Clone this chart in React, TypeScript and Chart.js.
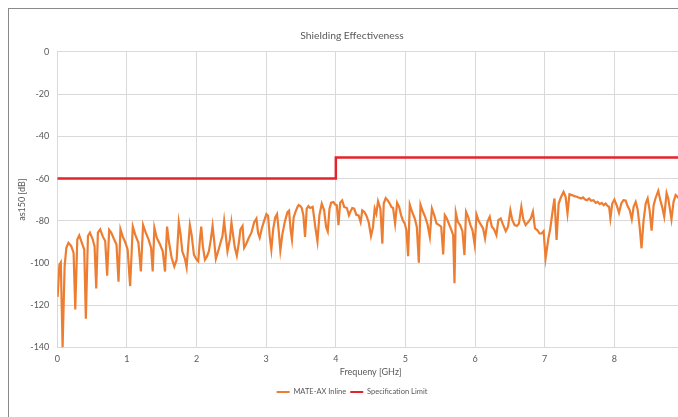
import React, { useEffect, useRef } from 'react';
import { Chart, registerables } from 'chart.js';

Chart.register(...registerables);

const chartTitle = 'Shielding Effectiveness';
const xTitle = 'Frequeny [GHz]';
const yTitle = 'as150 [dB]';
const seriesNames = ['MATE-AX Inline', 'Specification Limit'];

const mateFreq = [
  0.005, 0.03, 0.05, 0.076, 0.105, 0.13, 0.16, 0.2, 0.234, 0.258, 0.287, 0.315, 0.353, 0.387, 0.41, 0.44, 0.468, 0.506, 0.535, 0.559,
  0.583, 0.616, 0.654, 0.688, 0.716, 0.745, 0.774, 0.812, 0.85, 0.879, 0.907, 0.94, 0.974, 1.01, 1.046, 1.084, 1.117, 1.165, 1.2, 1.232,
  1.27, 1.31, 1.347, 1.37, 1.394, 1.428, 1.476, 1.514, 1.547, 1.576, 1.605, 1.643, 1.68, 1.714, 1.745, 1.77, 1.795, 1.833, 1.857, 1.88,
  1.904, 1.928, 1.962, 2.0, 2.024, 2.048, 2.067, 2.09, 2.12, 2.148, 2.177, 2.205, 2.23, 2.253, 2.277, 2.31, 2.344, 2.372, 2.396, 2.42,
  2.444, 2.478, 2.501, 2.525, 2.55, 2.578, 2.607, 2.63, 2.66, 2.683, 2.71, 2.75, 2.788, 2.826, 2.86, 2.883, 2.907, 2.94, 2.97, 3.003,
  3.027, 3.05, 3.074, 3.1, 3.13, 3.156, 3.18, 3.203, 3.232, 3.265, 3.304, 3.328, 3.35, 3.37, 3.394, 3.418, 3.447, 3.466, 3.49, 3.51,
  3.534, 3.558, 3.582, 3.606, 3.63, 3.668, 3.702, 3.736, 3.764, 3.798, 3.832, 3.86, 3.884, 3.909, 3.933, 3.966, 3.99, 4.014, 4.038, 4.062,
  4.091, 4.12, 4.159, 4.188, 4.207, 4.236, 4.264, 4.293, 4.327, 4.356, 4.38, 4.409, 4.438, 4.471, 4.505, 4.534, 4.558, 4.582, 4.606, 4.64,
  4.668, 4.688, 4.716, 4.745, 4.774, 4.798, 4.822, 4.851, 4.88, 4.909, 4.938, 4.962, 4.99, 5.014, 5.038, 5.062, 5.096, 5.135, 5.163, 5.192,
  5.216, 5.25, 5.283, 5.317, 5.35, 5.38, 5.413, 5.446, 5.484, 5.513, 5.542, 5.565, 5.594, 5.627, 5.66, 5.685, 5.704, 5.723, 5.752, 5.785,
  5.818, 5.847, 5.87, 5.9, 5.933, 5.962, 5.995, 6.02, 6.048, 6.08, 6.115, 6.143, 6.177, 6.21, 6.24, 6.272, 6.306, 6.334, 6.368, 6.4,
  6.44, 6.473, 6.506, 6.535, 6.568, 6.6, 6.63, 6.664, 6.692, 6.726, 6.764, 6.8, 6.83, 6.86, 6.893, 6.926, 6.955, 6.984, 7.012, 7.054,
  7.078, 7.112, 7.14, 7.17, 7.2, 7.236, 7.27, 7.3, 7.327, 7.355, 7.39, 7.427, 7.46, 7.494, 7.52, 7.55, 7.58, 7.608, 7.637, 7.666,
  7.7, 7.732, 7.76, 7.79, 7.818, 7.847, 7.876, 7.904, 7.924, 7.943, 7.97, 8.0, 8.033, 8.067, 8.1, 8.13, 8.162, 8.19, 8.22, 8.25,
  8.277, 8.306, 8.334, 8.363, 8.39, 8.42, 8.45, 8.478, 8.506, 8.535, 8.564, 8.59, 8.63, 8.66, 8.688, 8.716, 8.75, 8.774, 8.8, 8.82,
  8.85, 8.88, 8.907, 8.94, 8.97,
];

const mateDb = [
  -116, -100.8, -99.7, -140, -101.6, -92.8, -90.4, -92, -95.2, -122, -88.8, -86.9, -90.4, -93.6, -126.4, -87.2, -85.6, -88.5, -92, -112,
  -85.6, -84, -87.5, -89.6, -106, -84.3, -85.6, -88.5, -91.2, -108.8, -84, -87.5, -90, -93.6, -110.9, -82.7, -86.4, -90.4, -104, -82,
  -85.6, -88.8, -92.8, -104, -83.2, -88, -91.2, -94.4, -104, -82.7, -90.4, -97.6, -101.6, -98.4, -80.8, -86.4, -94.4, -98, -102, -92,
  -82, -86.4, -96, -98.4, -99.2, -88.8, -82.7, -92, -98.4, -97, -94.4, -88.8, -82.4, -89.6, -98, -94.4, -90.4, -87.2, -80, -87.2,
  -94.4, -88.8, -80.8, -86.9, -92.8, -96.5, -90.4, -84, -82.4, -92.8, -91.2, -88, -85.6, -80.8, -78.9, -85.6, -88, -83.2, -80, -76.8,
  -77.6, -87.2, -93.6, -84, -78.4, -76.8, -84.8, -94, -86.4, -80.8, -76, -75.2, -84, -88.8, -78.4, -76, -73.6, -72.5, -73, -73.9,
  -77.4, -87.6, -74.2, -73, -73.9, -73.4, -82.1, -89.7, -77.4, -71.8, -75, -82.9, -85, -74.2, -71.4, -71.1, -72.3, -72.6, -82.1, -71.4,
  -70.3, -73.4, -73.9, -77.4, -75.8, -73.9, -74.2, -77.1, -77.4, -80.6, -75, -75.8, -77.4, -80.6, -87.2, -82.9, -74.2, -76.6, -70.7, -74.2,
  -90.8, -71.8, -69.2, -70.3, -71.8, -73.4, -73.9, -81.3, -71.4, -73.4, -77.4, -79.7, -81.3, -84.5, -96.7, -72.3, -75.8, -79, -82.9, -99.8,
  -72.3, -75.6, -78.1, -81.7, -87.6, -74.2, -77.3, -81.3, -82, -82.8, -95.9, -77.3, -78.9, -81.7, -84.4, -86.8, -109.6, -76.1, -80.5, -82,
  -84.9, -96.2, -75.7, -78.1, -82, -84.4, -91.5, -77, -79.7, -81.7, -83.6, -88.3, -80.5, -78.1, -82.8, -84, -86.8, -79.7, -78.9, -81.7,
  -84.9, -82.8, -75, -79.7, -82, -82.4, -81.3, -73.4, -79.2, -82, -80.5, -78.9, -75.7, -83.6, -84.4, -86, -86, -84.9, -97.8, -88,
  -84, -75.7, -69.4, -89, -71.8, -68.6, -66.3, -68.6, -76.5, -67.4, -67.8, -68.3, -68.6, -69.1, -69.4, -68.9, -69.9, -70.2, -69.4, -70.5,
  -70.2, -71.5, -71, -72.1, -71.5, -72.6, -71.8, -73, -73.3, -78.8, -71.8, -69.9, -72.6, -76.2, -71.8, -70.2, -70.4, -73, -74.9, -79.3,
  -73.3, -71, -74.6, -82.8, -93, -79.6, -71.8, -69.4, -74.9, -84.6, -72.6, -69.4, -65.8, -70.2, -73.7, -78, -66.8, -69.4, -74.9, -79.3,
  -71, -67.8, -68.6, -70, -69,
];

const specFreq = [0, 4, 4, 9];
const specDb = [-60, -60, -50, -50];

const xMin = 0;
const xMax = 9;
const yMin = -140;
const yMax = 0;

const FONT = 'Lato, "Open Sans", sans-serif';
const TEXT = '#595959';
const GRID = '#d9d9d9';

export default function App() {
  const ref = useRef<HTMLCanvasElement | null>(null);

  useEffect(() => {
    if (!ref.current) return;
    const chart = new Chart(ref.current, {
      type: 'line',
      data: {
        datasets: [
          {
            label: seriesNames[0],
            data: mateFreq.map((f, i) => ({ x: f, y: mateDb[i] })),
            borderColor: '#ED7D31',
            backgroundColor: '#ED7D31',
            borderWidth: 2.2,
            pointRadius: 0,
            tension: 0,
          },
          {
            label: seriesNames[1],
            data: specFreq.map((f, i) => ({ x: f, y: specDb[i] })),
            borderColor: '#E3242B',
            backgroundColor: '#E3242B',
            borderWidth: 2.5,
            pointRadius: 0,
            tension: 0,
          },
        ],
      },
      options: {
        responsive: false,
        animation: false,
        devicePixelRatio: 1,
        layout: { padding: { left: 11, right: 13, top: 0, bottom: 21.25 } },
        plugins: {
          title: {
            display: true,
            text: chartTitle,
            color: TEXT,
            font: { family: FONT, size: 10.3, weight: 'normal', lineHeight: 1.2 },
            padding: { top: 20.8, bottom: 9.8 },
          },
          legend: {
            position: 'bottom',
            labels: {
              boxWidth: 13,
              boxHeight: 2,
              padding: 4,
              color: TEXT,
              font: { family: FONT, size: 7.5 },
              generateLabels: (c: any) =>
                Chart.defaults.plugins.legend.labels.generateLabels(c).map((it: any) => ({
                  ...it,
                  fillStyle: it.strokeStyle,
                  lineWidth: 0,
                })),
            },
          },
          tooltip: { enabled: false },
        },
        scales: {
          x: {
            type: 'linear',
            min: xMin,
            max: xMax,
            ticks: { stepSize: 1, color: TEXT, padding: 6, font: { family: FONT, size: 9 } },
            grid: { color: GRID, drawTicks: false },
            border: { color: GRID },
            title: {
              display: true,
              text: xTitle,
              color: TEXT,
              font: { family: FONT, size: 9, lineHeight: 1.2 },
              padding: { top: 0, bottom: 6.85 },
            },
            afterFit: (s: any) => {
              s.height = 36.75;
            },
          },
          y: {
            type: 'linear',
            min: yMin,
            max: yMax,
            ticks: { stepSize: 20, color: TEXT, padding: 8, font: { family: FONT, size: 9 } },
            grid: { color: GRID, drawTicks: false },
            border: { color: GRID },
            title: {
              display: true,
              text: yTitle,
              color: TEXT,
              font: { family: FONT, size: 9, lineHeight: 1.2 },
              padding: { top: -3.4, bottom: 0 },
            },
            afterFit: (s: any) => {
              s.width = 37.3;
            },
          },
        },
      },
    });
    return () => chart.destroy();
  }, []);

  return (
    <div style={{ position: 'fixed', left: 8, top: 8, width: 670, height: 409, overflow: 'hidden', background: '#fff' }}>
      <div style={{ width: 690, height: 420, border: '1px solid #8a8a8a', boxSizing: 'border-box' }}>
        <canvas ref={ref} width={688} height={418} style={{ display: 'block' }} />
      </div>
    </div>
  );
}
